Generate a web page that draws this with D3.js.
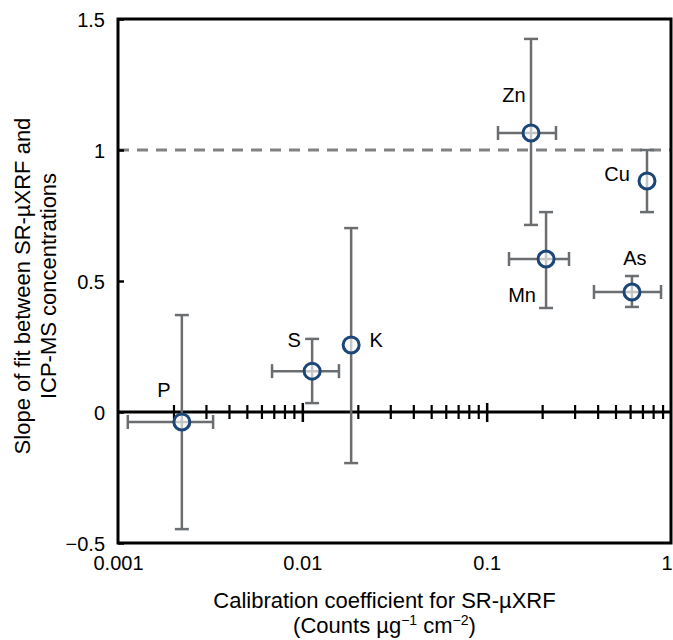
<!DOCTYPE html>
<html>
<head>
<meta charset="utf-8">
<script src="https://cdn.jsdelivr.net/npm/d3@7"></script>
<style>
  html, body { margin: 0; padding: 0; background: #fff; }
  svg { display: block; font-family: "Liberation Sans", Arial, Helvetica, sans-serif; }
</style>
</head>
<body>
<svg id="chart" width="673" height="640"></svg>
<script>
// ---- data ----
const elements = ["P", "S", "K", "Zn", "Mn", "Cu", "As"];
const calib    = [0.00222, 0.0113, 0.0184, 0.174, 0.210, 0.741, 0.614];
const calibLo  = [0.00113, 0.00685, null, 0.1152, 0.1322, null, 0.382];
const calibHi  = [0.00328, 0.0158, null, 0.2377, 0.2797, null, 0.883];
const slope    = [-0.038, 0.156, 0.256, 1.065, 0.584, 0.882, 0.458];
const slopeLo  = [-0.447, 0.034, -0.195, 0.714, 0.397, 0.763, 0.401];
const slopeHi  = [0.370, 0.279, 0.702, 1.424, 0.763, 1.000, 0.519];
const xTickLabels = ["0.001", "0.01", "0.1", "1"];
const xTickValues = [0.001, 0.01, 0.1, 1];
const yTickValues = [-0.5, 0, 0.5, 1, 1.5];
const yTickLabels = ["\u22120.5", "0", "0.5", "1", "1.5"];
const refLine = 1;

// ---- layout (label offsets relative to the marker) ----
const labelOffset = {
  P: [-18, -25], S: [-18, -24], K: [25, 2], Zn: [-17, -31],
  Mn: [-24, 43], Cu: [-30, 0], As: [3, -27]
};

const L = 118, R = 671, T = 19, B = 543;
const svg = d3.select("#chart");
const x = d3.scaleLog().domain([0.001, 1]).range([L, R]);
const y = d3.scaleLinear().domain([-0.5, 1.5]).range([B, T]);

const data = elements.map((e, i) => ({
  name: e, x: calib[i], xl: calibLo[i], xh: calibHi[i],
  y: slope[i], yl: slopeLo[i], yh: slopeHi[i]
}));

const errColor = "#6b6e71";
const markColor = "#1b4677";

// reference dashed line
svg.append("line")
  .attr("x1", L).attr("x2", R)
  .attr("y1", y(refLine)).attr("y2", y(refLine))
  .attr("stroke", "#808284").attr("stroke-width", 3)
  .attr("stroke-dasharray", "11,8");

// y axis (left) with inward ticks
const yAxis = d3.axisLeft(y).tickValues(yTickValues)
  .tickFormat((d, i) => yTickLabels[i]).tickSize(-6).tickPadding(13);
const gy = svg.append("g").attr("transform", `translate(${L},0)`).call(yAxis);
gy.select(".domain").remove();
gy.selectAll(".tick line").attr("stroke", "#000").attr("stroke-width", 2.5);
gy.selectAll(".tick text").attr("font-size", 20).attr("fill", "#000")
  .attr("font-family", "Liberation Sans, Arial, sans-serif").attr("dy", "0.36em");

// x tick labels at bottom
const xAxisB = d3.axisBottom(x).tickValues(xTickValues)
  .tickFormat((d, i) => xTickLabels[i]).tickSize(0).tickPadding(13);
const gxb = svg.append("g").attr("transform", `translate(0,${B})`).call(xAxisB);
gxb.select(".domain").remove();
gxb.selectAll(".tick text").attr("font-size", 20).attr("fill", "#000")
  .attr("font-family", "Liberation Sans, Arial, sans-serif");
// keep the last label ("1") inside the canvas
gxb.selectAll(".tick text").filter(d => d === 1).attr("text-anchor", "end").attr("dx", 1);

// x axis at y = 0 with log minor ticks crossing the line
const minorTicks = [];
[0.001, 0.01, 0.1].forEach(dec => { for (let k = 2; k <= 9; k++) minorTicks.push(dec * k); });
const g0 = svg.append("g").attr("transform", `translate(0,${y(0)})`);
g0.call(d3.axisBottom(x).tickValues(minorTicks).tickFormat("").tickSizeOuter(0).tickSizeInner(7));
g0.selectAll(".tick line").attr("y1", -7).attr("y2", 7).attr("stroke", "#000").attr("stroke-width", 2.2);
const g0maj = svg.append("g").attr("transform", `translate(0,${y(0)})`);
g0maj.call(d3.axisBottom(x).tickValues([0.01, 0.1]).tickFormat("").tickSizeOuter(0).tickSizeInner(9));
g0maj.select(".domain").remove();
g0maj.selectAll(".tick line").attr("y1", -9).attr("y2", 10).attr("stroke", "#000").attr("stroke-width", 2.5);
g0.select(".domain").attr("d", `M${L},0H${R}`).attr("stroke", "#000").attr("stroke-width", 3);

// error bars
const eb = svg.append("g").attr("stroke", errColor).attr("stroke-width", 2.5).attr("fill", "none");
const cap = 7;
data.forEach(d => {
  eb.append("line").attr("x1", x(d.x)).attr("x2", x(d.x)).attr("y1", y(d.yl)).attr("y2", y(d.yh));
  eb.append("line").attr("x1", x(d.x) - cap).attr("x2", x(d.x) + cap).attr("y1", y(d.yl)).attr("y2", y(d.yl));
  eb.append("line").attr("x1", x(d.x) - cap).attr("x2", x(d.x) + cap).attr("y1", y(d.yh)).attr("y2", y(d.yh));
  if (d.xl != null) {
    eb.append("line").attr("x1", x(d.xl)).attr("x2", x(d.xh)).attr("y1", y(d.y)).attr("y2", y(d.y));
    eb.append("line").attr("x1", x(d.xl)).attr("x2", x(d.xl)).attr("y1", y(d.y) - cap).attr("y2", y(d.y) + cap);
    eb.append("line").attr("x1", x(d.xh)).attr("x2", x(d.xh)).attr("y1", y(d.y) - cap).attr("y2", y(d.y) + cap);
  }
});

// markers
svg.append("g").selectAll("circle").data(data).join("circle")
  .attr("cx", d => x(d.x)).attr("cy", d => y(d.y)).attr("r", 8)
  .attr("fill", "#fff").attr("fill-opacity", 0.6)
  .attr("stroke", markColor).attr("stroke-width", 3);

// labels
svg.append("g").selectAll("text").data(data).join("text")
  .attr("x", d => x(d.x) + labelOffset[d.name][0])
  .attr("y", d => y(d.y) + labelOffset[d.name][1])
  .attr("text-anchor", "middle").attr("font-size", 20).attr("fill", "#000")
  .text(d => d.name);

// frame
svg.append("rect").attr("x", L).attr("y", T).attr("width", R - L).attr("height", B - T)
  .attr("fill", "none").attr("stroke", "#000").attr("stroke-width", 3);

// x title
const cx = (L + R) / 2 - 10;
svg.append("text").attr("x", cx).attr("y", 608).attr("text-anchor", "middle")
  .attr("font-size", 22).text("Calibration coefficient for SR-\u00b5XRF");
const t2 = svg.append("text").attr("x", cx).attr("y", 633).attr("text-anchor", "middle").attr("font-size", 22);
t2.append("tspan").text("(Counts \u00b5g");
t2.append("tspan").attr("dy", -8).attr("font-size", 14).text("\u22121");
t2.append("tspan").attr("dy", 8).text(" cm");
t2.append("tspan").attr("dy", -8).attr("font-size", 14).text("\u22122");
t2.append("tspan").attr("dy", 8).text(")");

// y title
const ty = 286;
svg.append("text").attr("transform", `translate(30,${ty}) rotate(-90)`).attr("text-anchor", "middle")
  .attr("font-size", 22).text("Slope of fit between SR-\u00b5XRF and");
svg.append("text").attr("transform", `translate(56,${ty}) rotate(-90)`).attr("text-anchor", "middle")
  .attr("font-size", 22).text("ICP-MS concentrations");
</script>
</body>
</html>
